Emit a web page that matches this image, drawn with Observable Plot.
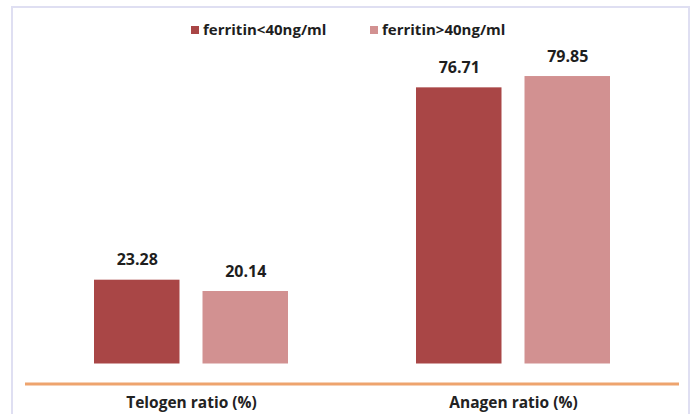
<!DOCTYPE html>
<html>
<head>
<meta charset="utf-8">
<script src="https://cdn.jsdelivr.net/npm/d3@7"></script>
<script src="https://cdn.jsdelivr.net/npm/@observablehq/plot@0.6"></script>
<style>
  html, body { margin: 0; padding: 0; background: #ffffff; }
  #wrap { position: relative; width: 691px; height: 414px; overflow: hidden; font-family: "Open Sans", Lato, sans-serif; }
  #border { position: absolute; left: 11px; top: 6px; width: 679px; height: 430px; box-sizing: border-box; border: 2px solid #dfdff2; }
  #legend { position: relative; height: 44px; font-weight: 700; font-size: 15px; color: #1e1e1e; }
  .item { position: absolute; top: 19px; display: flex; align-items: center; line-height: 20px; }
  .sw { width: 8px; height: 8px; margin-right: 4px; margin-top: 2px; }
  #chart { position: relative; }
</style>
</head>
<body>
<div id="wrap">
  <div id="border"></div>
  <div id="legend"></div>
  <div id="chart"></div>
</div>
<script>
const categories = ["Telogen ratio (%)", "Anagen ratio (%)"];
const series = ["ferritin<40ng/ml", "ferritin>40ng/ml"];
const lowFerritin = [23.28, 76.71];
const highFerritin = [20.14, 79.85];
const colors = ["#a94646", "#d29191"];
const legendLeft = [191, 370];

const lowData = categories.map((c, i) => ({cat: c, series: series[0], value: lowFerritin[i]}));
const highData = categories.map((c, i) => ({cat: c, series: series[1], value: highFerritin[i]}));

const legend = document.getElementById("legend");
series.forEach((s, i) => {
  const item = document.createElement("div");
  item.className = "item";
  item.style.left = legendLeft[i] + "px";
  const sw = document.createElement("span");
  sw.className = "sw";
  sw.style.background = colors[i];
  const t = document.createElement("span");
  t.textContent = s;
  item.appendChild(sw);
  item.appendChild(t);
  legend.appendChild(item);
});

const inset = 108.5;   // half-band gap between the two bars of a group
const shift = 54.25;   // label offset to the centre of each bar

const labelStyle = {fontSize: 16, fontWeight: "bold", fill: "#1e1e1e", lineAnchor: "middle", text: d => d.value.toFixed(2)};

const chart = Plot.plot({
  width: 691,
  height: 370,
  marginLeft: 26,
  marginRight: 14,
  marginTop: 13.5,
  marginBottom: 30.5,
  style: {fontFamily: "'Open Sans', Lato, sans-serif", background: "transparent"},
  x: {domain: categories, paddingInner: 0.399, paddingOuter: 0.208, label: null},
  y: {domain: [0, 85], insetBottom: 20, axis: null},
  color: {domain: series, range: colors},
  marks: [
    Plot.barY(lowData, {x: "cat", y: "value", fill: "series", insetRight: inset}),
    Plot.barY(highData, {x: "cat", y: "value", fill: "series", insetLeft: inset}),
    Plot.text(lowData, {x: "cat", y: "value", dx: -shift, dy: -20, ...labelStyle}),
    Plot.text(highData, {x: "cat", y: "value", dx: shift, dy: -20, ...labelStyle}),
    Plot.frame({anchor: "bottom", stroke: "#eea46e", strokeWidth: 3}),
    Plot.axisX({anchor: "bottom", tickSize: 0, tickPadding: 12.5, fontSize: 15.5, fontWeight: "bold", fill: "#222", label: null})
  ]
});
document.getElementById("chart").appendChild(chart);
</script>
</body>
</html>
